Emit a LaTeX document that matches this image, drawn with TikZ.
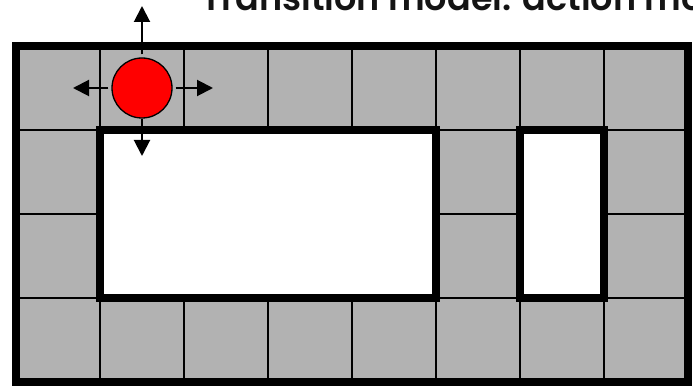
\documentclass[tikz,border=0pt]{standalone}
\usepackage{fontspec}
\newfontfamily\titlefont{Poppins SemiBold}
\usetikzlibrary{arrows.meta}
\definecolor{cellgray}{RGB}{178,178,178}
\definecolor{robotred}{RGB}{255,0,0}
\definecolor{titleink}{RGB}{20,20,20}
\tikzset{
  gridline/.style={line width=2pt, draw=black},
  wallbox/.style={line width=7.5pt, draw=black, fill=white},
  outerwall/.style={line width=8pt, draw=black},
  robotnode/.style={circle, draw=black, line width=1.3pt, fill=robotred, minimum size=60pt, inner sep=0pt},
  movearrow/.style={line width=2pt, -{Triangle[length=16pt,width=16pt]}, shorten <=3pt},
  titletext/.style={anchor=base west, inner sep=0pt, text=titleink, font=\titlefont\fontsize{35}{40}\selectfont}
}
\begin{document}
\begin{tikzpicture}[x=1pt,y=-1pt]
\useasboundingbox (0,0) rectangle (693,390);
\clip (0,0) rectangle (693,390);
% gray floor
\fill[cellgray] (16,46) rectangle (688,382);
% thin grid lines
\foreach \x in {100,184,...,604} \draw[gridline] (\x,46) -- (\x,382);
\foreach \y in {130,214,298} \draw[gridline] (16,\y) -- (688,\y);
% obstacles
\draw[wallbox] (100,130) rectangle (436,298);
\draw[wallbox] (520,130) rectangle (604,298);
% outer wall
\draw[outerwall] (16,46) rectangle (688,382);
% robot and moves
\node[robotnode] (robot) at (142,88) {};
\coordinate (upend) at (142,6);
\coordinate (downend) at (142,156);
\coordinate (leftend) at (73,88);
\coordinate (rightend) at (213,88);
\draw[movearrow] (robot) -- (upend);
\draw[movearrow, shorten <=0.5pt] (robot) -- (downend);
\draw[movearrow] (robot) -- (leftend);
\draw[movearrow] (robot) -- (rightend);
% title (clipped at top and right)
\node[titletext] (title) at (201,10.7) {Transition model: action mo};
\end{tikzpicture}
\end{document}
